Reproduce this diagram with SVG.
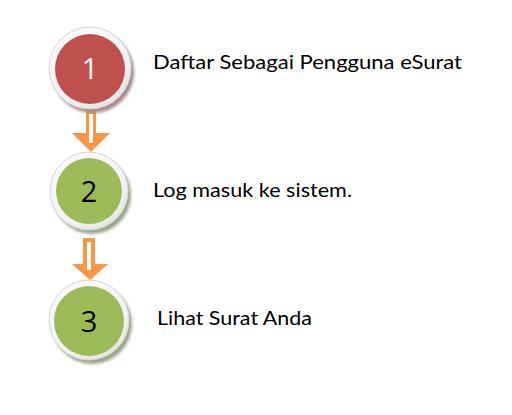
<svg xmlns="http://www.w3.org/2000/svg" width="512" height="415" viewBox="0 0 512 415">
<defs>
<radialGradient id="ring" cx="40%" cy="35%" r="70%">
<stop offset="0" stop-color="#ffffff"/>
<stop offset="0.8" stop-color="#f2f2f2"/>
<stop offset="1" stop-color="#e0e0e0"/>
</radialGradient>
<filter id="blur" x="-20%" y="-20%" width="140%" height="140%"><feGaussianBlur stdDeviation="1.5"/></filter>
</defs>
<style>
.ring{fill:url(#ring);stroke:#d8d8d8;stroke-width:1}
.red{fill:#C0504D}
.green{fill:#9BBB59}
.num{font-family:"Open Sans","Liberation Sans",sans-serif;font-size:29px;text-anchor:middle}
.lbl{font-family:Lato,"Open Sans","Liberation Sans",sans-serif;font-size:19px;fill:#000}
.arrow{fill:#F79646}
.inner{fill:#ffffff}
</style>
<rect width="512" height="415" fill="#ffffff"/>
<g id="connectors">
<polygon class="arrow" points="86,110 96,110 96,133 110,133 91,152 72,133 86,133"/>
<rect class="inner" x="89" y="114" width="4" height="29"/>
<polygon class="arrow" points="83,238 95,238 95,264 108,264 90,280 72,264 83,264"/>
<rect class="inner" x="87" y="242" width="4" height="28"/>
</g>
<g id="node1">
<circle cx="93" cy="72" r="41" fill="#a88a8a" filter="url(#blur)"/>
<circle class="ring" cx="90" cy="68" r="41"/>
<circle class="red" cx="90" cy="69" r="35"/>
<text class="num" x="90" y="79" fill="#ffffff">1</text>
<text class="lbl" x="153" y="69" textLength="309" lengthAdjust="spacingAndGlyphs">Daftar Sebagai Pengguna eSurat</text>
</g>
<g id="node2">
<circle cx="92" cy="195" r="39" fill="#9aa58a" filter="url(#blur)"/>
<circle class="ring" cx="89" cy="191" r="39"/>
<circle class="green" cx="89" cy="191" r="33"/>
<text class="num" x="89" y="202" fill="#000000">2</text>
<text class="lbl" x="153" y="197" textLength="199" lengthAdjust="spacingAndGlyphs">Log masuk ke sistem.</text>
</g>
<g id="node3">
<circle cx="92" cy="324" r="40" fill="#9aa58a" filter="url(#blur)"/>
<circle class="ring" cx="89" cy="320" r="40"/>
<circle class="green" cx="89" cy="321" r="35"/>
<text class="num" x="89" y="332" fill="#000000">3</text>
<text class="lbl" x="157" y="325" textLength="155" lengthAdjust="spacingAndGlyphs">Lihat Surat Anda</text>
</g>
</svg>
